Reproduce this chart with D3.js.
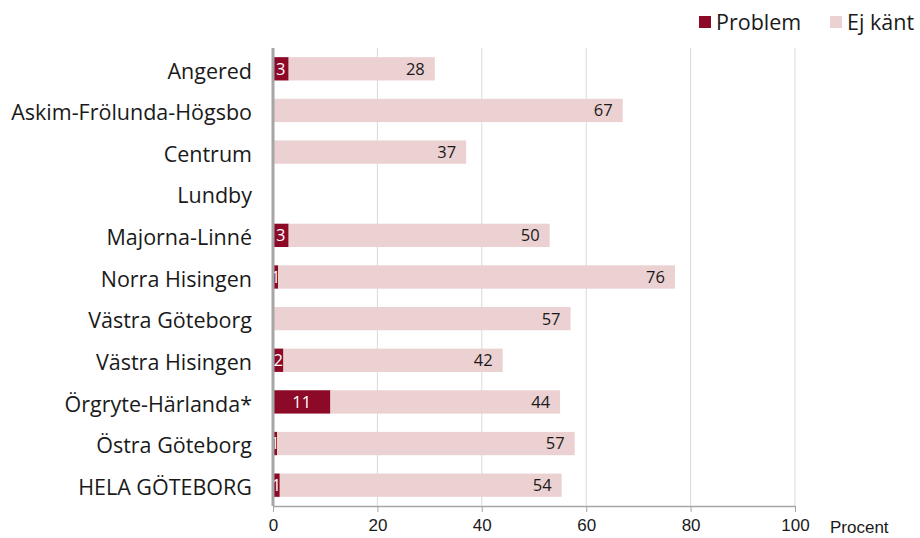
<!DOCTYPE html>
<html><head><meta charset="utf-8">
<script src="https://cdn.jsdelivr.net/npm/d3@7"></script>
<style>body{margin:0;background:#fff}svg{display:block}</style>
</head><body>
<svg id="c" width="920" height="538"></svg>
<script>
const categories = ["Angered","Askim-Frölunda-Högsbo","Centrum","Lundby","Majorna-Linné","Norra Hisingen","Västra Göteborg","Västra Hisingen","Örgryte-Härlanda*","Östra Göteborg","HELA GÖTEBORG"];
const problem = [3,0,0,0,3,1,0,2,11,0.8,1.3];
const problemLabels = ["3","","","","3","1","","2","11","1","1"];
const ejKant = [28,67,37,0,50,76,57,42,44,57,54];
const ejKantLabels = ["28","67","37","","50","76","57","42","44","57","54"];
const xTicks = [0,20,40,60,80,100];
const seriesNames = ["Problem","Ej känt"];
const colors = ["#8C0A27","#EBD1D1"];

const mainFont = "'Open Sans', 'Liberation Sans', Arial, sans-serif";
const axisFont = "'Liberation Sans', Arial, sans-serif";

const svg = d3.select("#c");
const x = d3.scaleLinear().domain([0,100]).range([273,795]);
const y = d3.scaleBand().domain(categories).range([48,506]).paddingInner(0.44).paddingOuter(0.22);

// grid
svg.append("g").selectAll("line").data(xTicks.slice(1)).join("line")
  .attr("x1",d=>x(d)).attr("x2",d=>x(d)).attr("y1",48).attr("y2",506)
  .attr("stroke","#d9d9d9").attr("stroke-width",1);

// bars
const g = svg.append("g");
categories.forEach((c,i)=>{
  if(problem[i]>0) g.append("rect").attr("x",x(0)).attr("y",y(c)).attr("width",x(problem[i])-x(0)).attr("height",y.bandwidth()).attr("fill",colors[0]);
  if(ejKant[i]>0) g.append("rect").attr("x",x(problem[i])).attr("y",y(c)).attr("width",x(problem[i]+ejKant[i])-x(problem[i])).attr("height",y.bandwidth()).attr("fill",colors[1]);
  if(problemLabels[i]) g.append("text").attr("x",(x(0)+x(problem[i]))/2).attr("y",y(c)+y.bandwidth()/2).attr("dy","0.36em")
    .attr("text-anchor","middle").attr("fill","#fff").style("font","16.5px "+mainFont).text(problemLabels[i]);
  if(ejKantLabels[i]) g.append("text").attr("x",x(problem[i]+ejKant[i])-10).attr("y",y(c)+y.bandwidth()/2).attr("dy","0.36em")
    .attr("text-anchor","end").attr("fill","#1a1a1a").style("font","16.5px "+mainFont).text(ejKantLabels[i]);
});

// category labels
svg.append("g").selectAll("text").data(categories).join("text")
  .attr("x",252).attr("y",d=>y(d)+y.bandwidth()/2+2).attr("dy","0.36em").attr("text-anchor","end")
  .attr("fill","#1a1a1a").style("font","21.5px "+mainFont).text(d=>d);

// x axis
const ax = svg.append("g").attr("transform","translate(0,506)")
  .call(d3.axisBottom(x).tickValues(xTicks).tickSize(6).tickSizeOuter(0).tickPadding(7));
ax.select(".domain").attr("stroke","#a6a6a6").attr("stroke-width",1.5);
ax.selectAll(".tick line").attr("stroke","#a6a6a6");
ax.selectAll("text").attr("fill","#1a1a1a").style("font","17px "+axisFont);
// y axis line
svg.append("line").attr("x1",x(0)).attr("x2",x(0)).attr("y1",48).attr("y2",506).attr("stroke","#a6a6a6").attr("stroke-width",3);

svg.append("text").attr("x",830).attr("y",533).attr("fill","#1a1a1a")
  .style("font","17px "+axisFont).text("Procent");

// legend
const lx = [699,830];
seriesNames.forEach((s,i)=>{
  svg.append("rect").attr("x",lx[i]).attr("y",16).attr("width",12).attr("height",12).attr("fill",colors[i]);
  svg.append("text").attr("x",lx[i]+17).attr("y",22).attr("dy","0.36em").attr("fill","#1a1a1a")
    .style("font","21.5px "+mainFont).text(s);
});
</script>
</body></html>
